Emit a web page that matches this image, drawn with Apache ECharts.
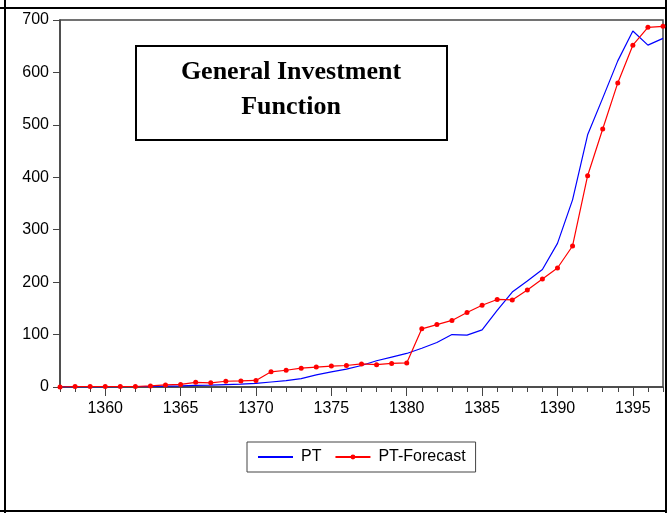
<!DOCTYPE html>
<html>
<head>
<meta charset="utf-8">
<script src="https://cdn.jsdelivr.net/npm/echarts@6/dist/echarts.min.js"></script>
<style>
  html, body { margin: 0; padding: 0; background: #fff; }
  #chart { width: 667px; height: 513px; }
</style>
</head>
<body>
<div id="chart"></div>
<script>
// years on the x axis
const years = [];
for (let y = 1357; y <= 1397; y++) years.push(String(y));

// actual PT
const ptValues = [
  0, 0, 0, 0, 0.5, 1, 1, 1.5, 2, 3, 3.5, 4.5,
  5.5, 7, 9.5, 12, 16, 23, 29, 34, 41, 50, 57, 64,
  74, 85, 100, 99, 109, 146, 181, 202, 224, 274, 357, 481,
  551, 622, 679, 652, 665
];
// forecast
const forecastValues = [
  0, 1, 1, 1, 1, 1, 2, 4, 5, 9, 8, 11,
  11.5, 12.5, 29, 32, 36, 38, 40, 41, 44, 42.5, 45, 46,
  111, 119, 127, 142, 156, 167, 166, 185, 206, 227, 269, 403,
  492, 580, 652, 686, 688
];
const yTicks = { min: 0, max: 700, step: 100 };

const font = '"Liberation Sans", Arial, sans-serif';
const chart = echarts.init(document.getElementById('chart'));

chart.setOption({
  animation: false,
  grid: {
    left: 60, top: 20, width: 603, height: 367,
    show: true, borderColor: '#444', borderWidth: 1.5, backgroundColor: 'transparent'
  },
  legend: {
    left: 247, top: 442,
    padding: [7, 10, 7, 10],
    itemGap: 13, itemWidth: 35, itemHeight: 6,
    borderColor: '#444', borderWidth: 1,
    textStyle: { fontFamily: font, fontSize: 16, color: '#000', padding: [0, 0, 0, 3] },
    data: [
      { name: 'PT', itemStyle: { opacity: 0 } },
      { name: 'PT-Forecast' }
    ]
  },
  xAxis: [
    {
      type: 'category', data: years, boundaryGap: false,
      axisLine: { lineStyle: { color: '#444', width: 1.5 } },
      axisTick: { interval: 0, length: 5, lineStyle: { color: '#444' } },
      axisLabel: {
        interval: (i, v) => Number(v) % 5 === 0,
        fontFamily: font, fontSize: 16, color: '#000', margin: 14
      },
      splitLine: { show: false }
    },
    {
      // longer ticks at every fifth year
      type: 'category', data: years, boundaryGap: false, position: 'bottom',
      axisLine: { show: false },
      axisTick: { interval: (i, v) => Number(v) % 5 === 0, length: 9, lineStyle: { color: '#444' } },
      axisLabel: { show: false }
    }
  ],
  yAxis: {
    type: 'value', min: yTicks.min, max: yTicks.max, interval: yTicks.step,
    axisLine: { show: true, lineStyle: { color: '#444', width: 1.5 } },
    axisTick: { show: true, length: 7, lineStyle: { color: '#444' } },
    axisLabel: { fontFamily: font, fontSize: 16, color: '#000', margin: 11 },
    splitLine: { show: false }
  },
  series: [
    {
      name: 'PT', type: 'line', data: ptValues,
      symbol: 'none', lineStyle: { color: '#0000ff', width: 1.2 },
      itemStyle: { color: '#0000ff' }, z: 2
    },
    {
      name: 'PT-Forecast', type: 'line', data: forecastValues,
      symbol: 'circle', symbolSize: 5,
      lineStyle: { color: '#ff0000', width: 1.2 },
      itemStyle: { color: '#ff0000' }, z: 3
    }
  ],
  graphic: [
    // outer frame
    { type: 'line', shape: { x1: 5, y1: 0, x2: 5, y2: 513 }, style: { stroke: '#000', lineWidth: 2 } },
    { type: 'line', shape: { x1: 666, y1: 0, x2: 666, y2: 513 }, style: { stroke: '#000', lineWidth: 2 } },
    { type: 'line', shape: { x1: 0, y1: 8, x2: 667, y2: 8 }, style: { stroke: '#000', lineWidth: 2 } },
    { type: 'line', shape: { x1: 0, y1: 511, x2: 667, y2: 511 }, style: { stroke: '#000', lineWidth: 2 } },
    // title box
    {
      type: 'rect', shape: { x: 136, y: 46, width: 311, height: 94 },
      style: { fill: '#fff', stroke: '#000', lineWidth: 2 }, z: 10
    },
    {
      type: 'text', x: 291, y: 90, z: 11,
      style: {
        text: 'General Investment\nFunction',
        font: 'bold 26px "Liberation Serif", "Times New Roman", serif',
        fill: '#000', align: 'center', verticalAlign: 'middle', lineHeight: 35
      }
    }
  ]
});
</script>
</body>
</html>
